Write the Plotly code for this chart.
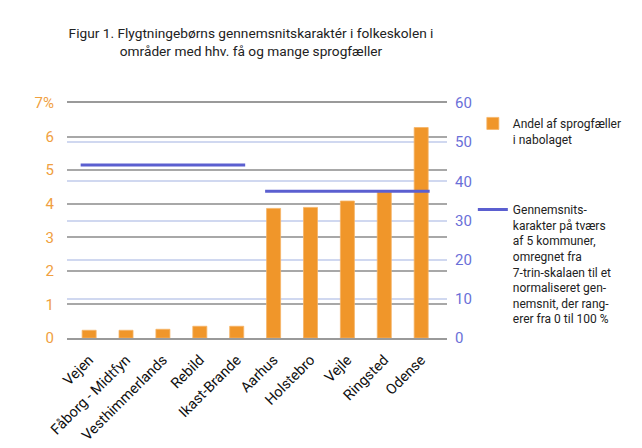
import plotly.graph_objects as go

categories = ["Vejen", "Fåborg - Midtfyn", "Vesthimmerlands", "Rebild", "Ikast-Brande",
              "Aarhus", "Holstebro", "Vejle", "Ringsted", "Odense"]
andel_sprogfaeller = [0.23, 0.23, 0.26, 0.35, 0.35, 3.86, 3.89, 4.08, 4.35, 6.27]
# average grade (0-100 scale) per group of municipalities
group_first = [0, 5]
group_last = [4, 9]
group_avg = [44.2, 37.5]
left_ticks = [0, 1, 2, 3, 4, 5, 6, 7]
left_ticktext = ["0", "1", "2", "3", "4", "5", "6", "7%"]
right_ticks = [0, 10, 20, 30, 40, 50, 60]

ORANGE = "#F0962A"
BLUE = "#5B5FD0"
FONT = "Roboto, sans-serif"

idx = list(range(len(categories)))
half = 0.23
line_x, line_y = [], []
for a, b, v in zip(group_first, group_last, group_avg):
    line_x += [a - half, b + half, None]
    line_y += [v, v, None]

fig = go.Figure()
fig.add_trace(go.Bar(
    x=idx, y=andel_sprogfaeller, name="Andel af sprogfæller<br>i nabolaget",
    marker=dict(color=ORANGE, line=dict(color="#F5B466", width=0.8)),
    width=0.38, legendgroup="a", yaxis="y"))
fig.add_trace(go.Scatter(
    x=line_x, y=line_y, mode="lines", yaxis="y2", legendgroup="b",
    name=("Gennemsnits-<br>karakter på tværs<br>af 5 kommuner,<br>omregnet fra<br>"
          "7-trin-skalaen til et<br>normaliseret gen-<br>nemsnit, der rang-<br>erer fra 0 til 100 %"),
    line=dict(color=BLUE, width=3)))

fig.update_layout(
    width=634, height=440,
    margin=dict(l=59, r=195, t=95, b=110, autoexpand=False),
    paper_bgcolor="white", plot_bgcolor="white",
    font=dict(family=FONT, color="#222"),
    title=dict(text="Figur 1. Flygtningebørns gennemsnitskaraktér i folkeskolen i<br>områder med hhv. få og mange sprogfæller",
               x=243 / 634, xanchor="center", xref="container",
               y=1 - 30 / 440, yanchor="top", yref="container",
               font=dict(family=FONT, size=13.7, color="#222")),
    xaxis=dict(range=[-0.6, 9.7], tickvals=idx, ticktext=categories, tickangle=-45,
               showgrid=False, zeroline=False, automargin=False,
               showline=True, mirror=True, linecolor="#9A9A9A", linewidth=1.5,
               tickfont=dict(family=FONT, size=14.5, color="#111"),
               ticks="outside", ticklen=6, tickcolor="rgba(0,0,0,0)"),
    yaxis=dict(range=[0, 7], tickvals=left_ticks, ticktext=left_ticktext,
               showgrid=True, gridcolor="#A8A8A8", gridwidth=1.5,
               zeroline=False, showline=False, automargin=False,
               tickfont=dict(family=FONT, size=15, color="#F0A040"),
               ticks="outside", ticklen=9, tickcolor="rgba(0,0,0,0)"),
    yaxis2=dict(range=[0, 60], tickvals=right_ticks, overlaying="y", side="right",
                showgrid=True, gridcolor="#D0D8F0", gridwidth=1.5,
                zeroline=False, showline=False, automargin=False,
                ticks="outside", ticklen=4, tickcolor="rgba(0,0,0,0)",
                tickfont=dict(family=FONT, size=15, color="#6A6FD8")),
    legend=dict(x=1.068, xanchor="left", y=0.974, yanchor="top", valign="top",
                tracegroupgap=52,
                font=dict(family=FONT, size=12, color="#222"),
                itemwidth=30, bgcolor="rgba(0,0,0,0)"),
    bargap=0.6,
)

fig.write_html("out.html")
